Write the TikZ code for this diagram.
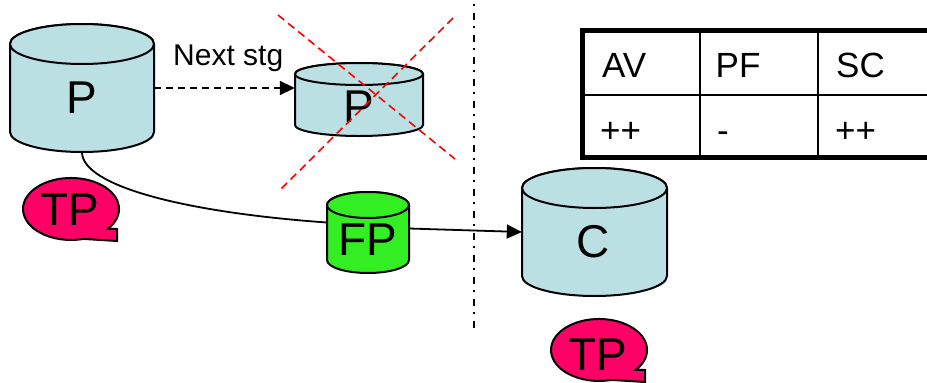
\documentclass[tikz,border=0pt]{standalone}
\usepackage{fontspec}
\setmainfont{Liberation Sans}
\usetikzlibrary{arrows.meta}
\definecolor{cylblue}{HTML}{BBE0E3}
\definecolor{fpgreen}{HTML}{33EE22}
\definecolor{tppink}{HTML}{FF0066}
\begin{document}
\begin{tikzpicture}[x=1pt,y=-1pt,
  cyl/.style={draw=black, line width=2pt, fill=cylblue},
  body/.style={draw=none, inner sep=0pt},
  big/.style={font=\fontsize{46}{50}\selectfont, inner sep=0pt, anchor=base},
  cell/.style={font=\fontsize{35}{40}\selectfont, inner sep=0pt, anchor=base west},
  lbl/.style={font=\fontsize{30}{34}\selectfont, inner sep=0pt, anchor=base west},
  conn/.style={line width=1.8pt, draw=black},
  tip/.style={-{Triangle[length=15pt,width=14pt]}},
  cross/.style={draw=red, line width=1.6pt, dash pattern=on 8pt off 5pt},
  callout/.style={draw=black, line width=2pt, fill=tppink}]
\useasboundingbox (0,0) rectangle (927,383);
\clip (0,0) rectangle (927,383);

% ---- big cylinder P
\filldraw[cyl] (10,44) -- (10,132) arc[start angle=180,end angle=0,x radius=72,y radius=20]
  -- (154,44) arc[start angle=0,end angle=-180,x radius=72,y radius=20] -- cycle;
\draw[cyl] (82,44) ellipse[x radius=72,y radius=20];
\node[body, minimum width=144pt, minimum height=128pt] (P1) at (82,88) {};
\node[big] (P1t) at (82,113) {P};

% ---- small cylinder P (next stage)
\filldraw[cyl] (295,74) -- (295,125) arc[start angle=180,end angle=0,x radius=64,y radius=11]
  -- (423,74) arc[start angle=0,end angle=-180,x radius=64,y radius=11] -- cycle;
\draw[cyl] (359,74) ellipse[x radius=64,y radius=11];
\node[body, minimum width=128pt, minimum height=73pt] (P2) at (359,99.5) {};
\node[big] (P2t) at (359,122) {P};

% ---- FP cylinder
\filldraw[cyl, fill=fpgreen] (327,205) -- (327,260) arc[start angle=180,end angle=0,x radius=41,y radius=13]
  -- (409,205) arc[start angle=0,end angle=-180,x radius=41,y radius=13] -- cycle;
\draw[cyl, fill=fpgreen] (368,205) ellipse[x radius=41,y radius=13];
\node[body, minimum width=82pt, minimum height=81pt] (FP) at (368,232.5) {};
\node[big] (FPt) at (367.5,255) {FP};

% ---- C cylinder
\filldraw[cyl] (522,188) -- (522,276) arc[start angle=180,end angle=0,x radius=72.5,y radius=20]
  -- (667,188) arc[start angle=0,end angle=-180,x radius=72.5,y radius=20] -- cycle;
\draw[cyl] (594.5,188) ellipse[x radius=72.5,y radius=20];
\node[body, minimum width=145pt, minimum height=128pt] (C) at (594.5,232) {};
\node[big] (Ct) at (593,257.5) {C};

% ---- red cross over next-stage P
\draw[cross] (278,15) -- (455,159);
\draw[cross] (453,18) -- (278,192);

% ---- connectors
\draw[conn, dash pattern=on 7pt off 5pt, tip] (P1.east) -- (P1.east -| P2.west);
\node[lbl] (next) at (173,65) {Next stg};
\draw[conn] (P1.south) .. controls (82,185) and (180,212) .. ([yshift=10pt]FP.west);
\draw[conn, tip] ([yshift=4pt]FP.east) -- (C.west);

% ---- dash-dotted separator
\draw[line width=2pt, dash pattern=on 2pt off 6.5pt on 7.5pt off 6pt] (473.5,4) -- (473.5,328);

% ---- table
\draw[line width=2.2pt] (700,31) -- (700,157);
\draw[line width=2.2pt] (818,31) -- (818,157);
\draw[line width=2.2pt] (582,95) -- (935,95);
\draw[line width=5pt] (935,30.5) -- (582,30.5) -- (582,157.5) -- (935,157.5);
\node[cell] (av) at (602,77) {AV};
\node[cell] (pf) at (715.5,77) {PF};
\node[cell] (sc) at (836,77) {SC};
\node[cell] (r1) at (600,142) {++};
\node[cell] (r2) at (717,142) {-};
\node[cell] (r3) at (835,142) {++};

% ---- TP callouts
\filldraw[callout] (107.8,228.9) arc[start angle=40,end angle=-285,x radius=48,y radius=31]
  -- (117,241) -- (117,229) -- cycle;
\node[big] (tp1) at (70,225) {TP};
\begin{scope}[shift={(528,141)}]
\filldraw[callout] (107.8,228.9) arc[start angle=40,end angle=-285,x radius=48,y radius=31]
  -- (117,241) -- (117,229) -- cycle;
\node[big] (tp2) at (70,229) {TP};
\end{scope}
\end{tikzpicture}
\end{document}
